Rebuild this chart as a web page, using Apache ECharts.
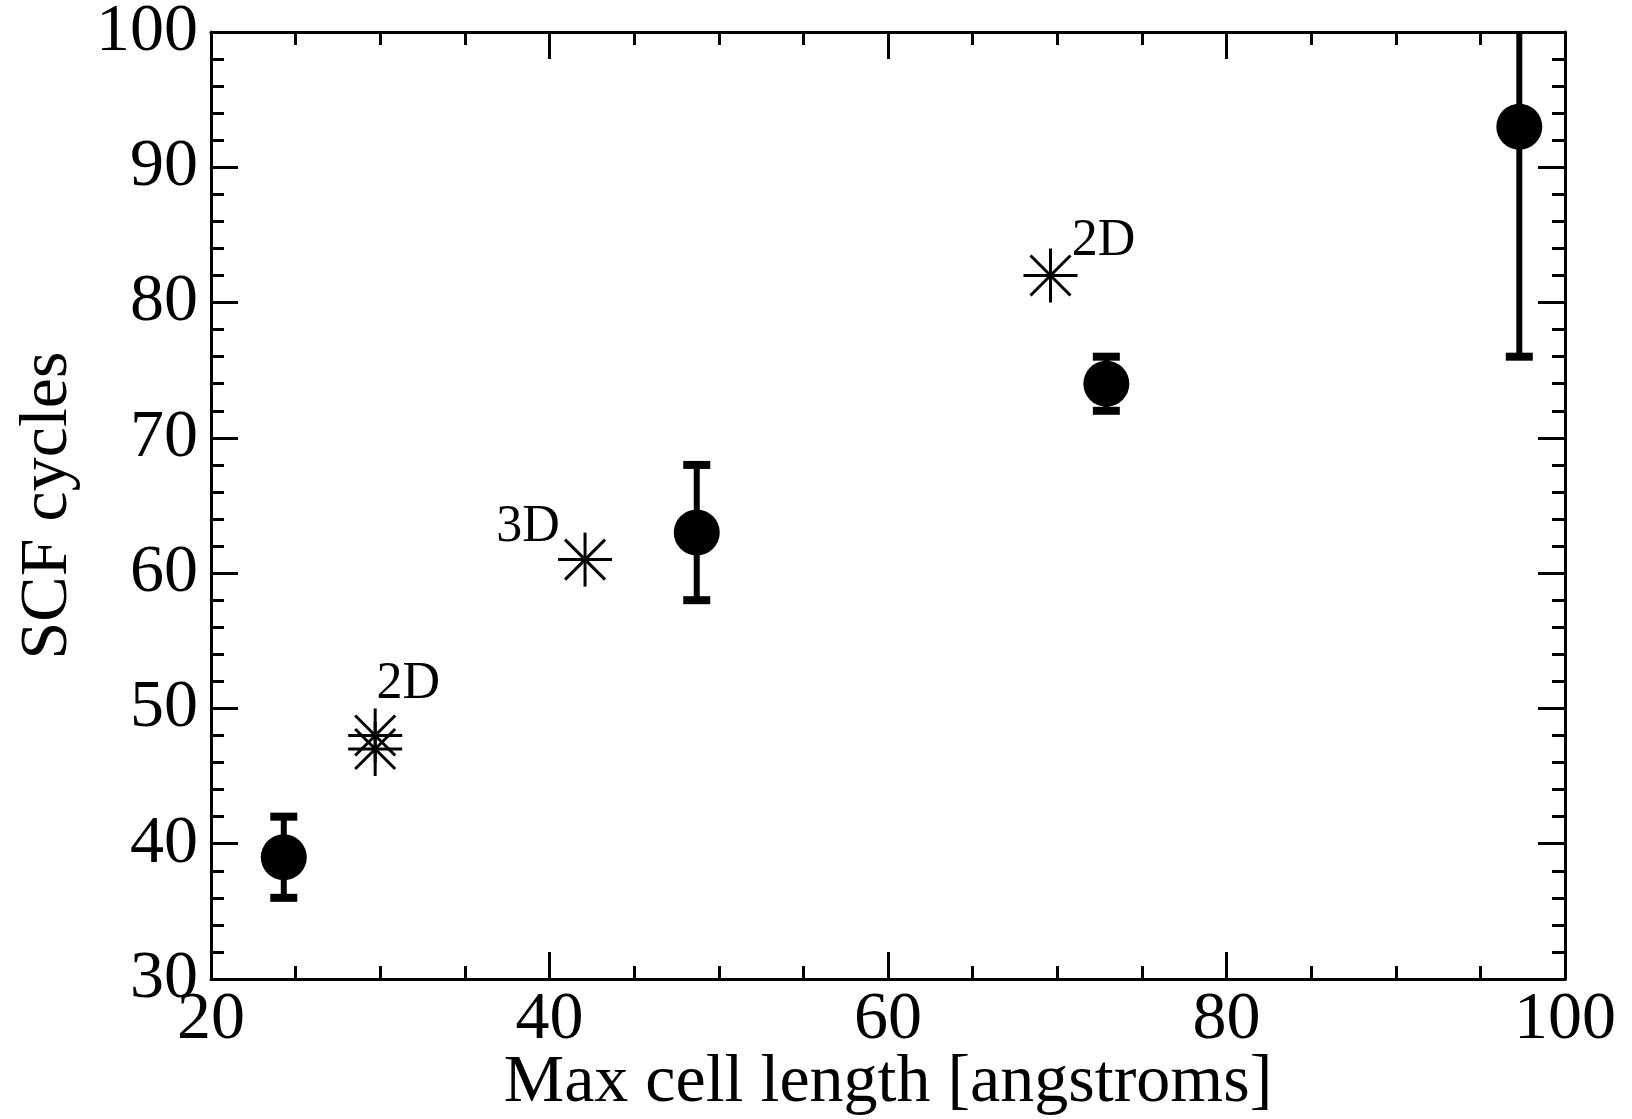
<!DOCTYPE html>
<html>
<head>
<meta charset="utf-8">
<script src="https://cdn.jsdelivr.net/npm/echarts@6/dist/echarts.min.js"></script>
<style>
html,body{margin:0;padding:0;background:#fff;}
#chart{width:1632px;height:1119px;}
</style>
</head>
<body>
<div id="chart"></div>
<script>
// ---- data ----
var circleX = [24.3, 48.7, 72.9, 97.3];
var circleY = [39, 63, 74, 93];
var errLow  = [36, 58, 72, 76];
var errHigh = [42, 68, 76, 110];

var starX = [29.7, 29.7, 42.1, 69.6];
var starY = [48, 47, 61, 82];
var starLabel = ['2D', '', '3D', '2D'];

var xTicks = [20, 40, 60, 80, 100];
var yTicks = [30, 40, 50, 60, 70, 80, 90, 100];

// ---- rendering ----
var FONT = '"Liberation Serif", "Times New Roman", serif';
var X_MIN = 20, X_MAX = 100, Y_MIN = 30, Y_MAX = 100;

var circleData = circleX.map(function (x, i) { return [x, circleY[i]]; });
var errData = circleX.map(function (x, i) { return [x, circleY[i], errLow[i], errHigh[i]]; });
var starData = starX.map(function (x, i) { return [x, starY[i], i]; });
// label placement relative to star centre (style only)
var labelPlacement = [[33, -51], [0, 0], [-57, -32], [53, -34]];

function axisCommon(show) {
  return {
    axisLine: { show: true, lineStyle: { color: '#000', width: 3 } },
    axisTick: { show: true, inside: true, length: 27, lineStyle: { color: '#000', width: 3 } },
    minorTick: { show: true, length: 13, lineStyle: { color: '#000', width: 3 } },
    splitLine: { show: false },
    axisLabel: { show: show }
  };
}

var chart = echarts.init(document.getElementById('chart'), null, { renderer: 'canvas' });

var xBottom = Object.assign(axisCommon(true), {
  type: 'value', position: 'bottom', min: X_MIN, max: X_MAX, interval: 20,
  name: 'Max cell length [angstroms]', nameLocation: 'middle', nameGap: 70, nameMoveOverlap: false,
  nameTextStyle: { fontFamily: FONT, fontSize: 68, color: '#000' },
  axisLabel: { show: true, fontFamily: FONT, fontSize: 68, color: '#000', margin: 7,
    formatter: function (v) { return xTicks.indexOf(v) >= 0 ? String(v) : ''; } }
});
xBottom.minorTick.splitNumber = 4;
var xTop = Object.assign(axisCommon(false), {
  type: 'value', position: 'top', min: X_MIN, max: X_MAX, interval: 20
});
xTop.minorTick.splitNumber = 4;

var yLeft = Object.assign(axisCommon(true), {
  type: 'value', position: 'left', min: Y_MIN, max: Y_MAX, interval: 10,
  name: 'SCF cycles', nameLocation: 'middle', nameGap: 129, nameRotate: 90, nameMoveOverlap: false,
  nameTextStyle: { fontFamily: FONT, fontSize: 68, color: '#000' },
  axisLabel: { show: true, fontFamily: FONT, fontSize: 68, color: '#000', margin: 13,
    formatter: function (v) { return yTicks.indexOf(v) >= 0 ? String(v) : ''; } }
});
yLeft.minorTick.splitNumber = 5;
var yRight = Object.assign(axisCommon(false), {
  type: 'value', position: 'right', min: Y_MIN, max: Y_MAX, interval: 10
});
yRight.minorTick.splitNumber = 5;

var option = {
  animation: false,
  backgroundColor: '#fff',
  grid: { left: 211, top: 32, width: 1354, height: 947, containLabel: false, outerBoundsMode: 'none' },
  xAxis: [xBottom, xTop],
  yAxis: [yLeft, yRight],
  series: [
    {
      type: 'custom',
      xAxisIndex: 0, yAxisIndex: 0,
      data: errData,
      z: 2,
      renderItem: function (params, api) {
        var x = api.value(0), lo = api.value(2), hi = api.value(3);
        var hiC = Math.min(hi, Y_MAX), loC = Math.max(lo, Y_MIN);
        var pLo = api.coord([x, loC]);
        var pHi = api.coord([x, hiC]);
        var children = [{
          type: 'line',
          shape: { x1: pLo[0], y1: pLo[1], x2: pHi[0], y2: pHi[1] },
          style: { stroke: '#000', lineWidth: 6 }
        }];
        var capW = 27, capH = 8;
        if (hi <= Y_MAX) children.push({ type: 'rect', shape: { x: pHi[0] - capW / 2, y: pHi[1] - capH / 2, width: capW, height: capH }, style: { fill: '#000' } });
        if (lo >= Y_MIN) children.push({ type: 'rect', shape: { x: pLo[0] - capW / 2, y: pLo[1] - capH / 2, width: capW, height: capH }, style: { fill: '#000' } });
        return { type: 'group', children: children };
      }
    },
    {
      type: 'scatter',
      xAxisIndex: 0, yAxisIndex: 0,
      data: circleData,
      symbol: 'circle',
      symbolSize: 46,
      itemStyle: { color: '#000', opacity: 1 },
      z: 3
    },
    {
      type: 'custom',
      xAxisIndex: 0, yAxisIndex: 0,
      data: starData,
      z: 4,
      renderItem: function (params, api) {
        var idx = api.value(2);
        var p = api.coord([api.value(0), api.value(1)]);
        var r = 27, d = 20;
        var st = { stroke: '#000', lineWidth: 3 };
        var children = [
          { type: 'line', shape: { x1: p[0], y1: p[1] - r, x2: p[0], y2: p[1] + r }, style: st },
          { type: 'line', shape: { x1: p[0] - r, y1: p[1], x2: p[0] + r, y2: p[1] }, style: st },
          { type: 'line', shape: { x1: p[0] - d, y1: p[1] - d, x2: p[0] + d, y2: p[1] + d }, style: st },
          { type: 'line', shape: { x1: p[0] - d, y1: p[1] + d, x2: p[0] + d, y2: p[1] - d }, style: st }
        ];
        var txt = starLabel[idx];
        if (txt) {
          var off = labelPlacement[idx];
          children.push({
            type: 'text',
            style: { text: txt, x: p[0] + off[0], y: p[1] + off[1], fill: '#000',
              font: '52px ' + FONT, align: 'center', verticalAlign: 'middle' }
          });
        }
        return { type: 'group', children: children };
      }
    }
  ]
};
chart.setOption(option);
</script>
</body>
</html>
